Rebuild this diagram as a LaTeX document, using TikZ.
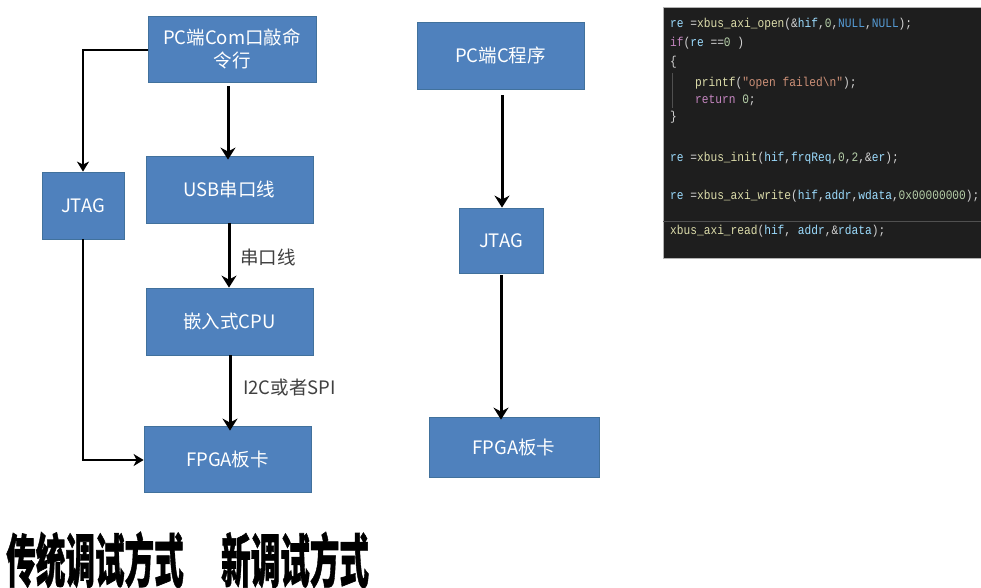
\documentclass[tikz,border=0pt]{standalone}
\usepackage{fontspec}
\usetikzlibrary{arrows.meta}
\setmainfont{Noto Sans CJK SC}
\newfontfamily\titlefont{Noto Sans CJK SC}[BoldFeatures={FakeBold=1.2}]
\newfontfamily\codefont{Liberation Mono}
\definecolor{boxfill}{HTML}{4F81BD}
\definecolor{boxline}{HTML}{41719C}
\definecolor{labeltext}{HTML}{404040}
\definecolor{codebg}{HTML}{1E1E1E}
\definecolor{cvar}{HTML}{9CDCFE}
\definecolor{cpun}{HTML}{D4D4D4}
\definecolor{cfun}{HTML}{DCDCAA}
\definecolor{cnum}{HTML}{B5CEA8}
\definecolor{cnull}{HTML}{569CD6}
\definecolor{ckw}{HTML}{C586C0}
\definecolor{cstr}{HTML}{CE9178}
\definecolor{codeguide}{HTML}{505050}
\newcommand\codec[2]{\textcolor{#1}{#2}}
\tikzset{
  flowbox/.style={draw=boxline, line width=0.8pt, fill=boxfill, text=white,
    font=\fontsize{18.5}{23}\selectfont, align=center, inner sep=0pt},
  flowarrow/.style={draw=black, line width=3pt,
    -{Stealth[length=12pt,width=15pt,inset=4pt]}},
  flowline/.style={draw=black, line width=2.4pt},
  sidearrow/.style={draw=black, line width=2.4pt,
    -{Stealth[length=10pt,width=12pt,inset=3pt]}},
  edgelabel/.style={text=labeltext, font=\fontsize{18.5}{22}\selectfont, anchor=west, inner sep=0pt},
  codeline/.style={anchor=base west, inner sep=0pt, yscale=1.15, font=\codefont\fontsize{11.2}{13}\selectfont},
  bigtitle/.style={font=\titlefont\bfseries\fontsize{58}{60}\selectfont, text=black, inner sep=0pt, xscale=0.51}
}
\begin{document}
\begin{tikzpicture}[x=1pt, y=-1pt]
\useasboundingbox[fill=white] (0,0) rectangle (981,588);

% ---- conventional debug path ----
\node[flowbox, minimum width=168pt, minimum height=66pt] (pc1) at (232,49) {PC端Com口敲命\\令行};
\node[flowbox, minimum width=167pt, minimum height=67pt] (usb) at (229.5,189.5) {USB串口线};
\node[flowbox, minimum width=167pt, minimum height=67pt] (cpu) at (229.5,321.5) {嵌入式CPU};
\node[flowbox, minimum width=167pt, minimum height=66pt] (fpga1) at (227.5,459) {FPGA板卡};
\node[flowbox, minimum width=82pt, minimum height=67pt] (jtag1) at (83,205.5) {JTAG};

\draw[flowarrow] ([yshift=-4pt]pc1.south -| 228,0) -- ([yshift=-4pt]usb.north -| 228,0);
\draw[flowarrow] (usb.south -| 229,0) -- (cpu.north -| 229,0);
\draw[flowarrow] (cpu.south -| 230,0) -- ([yshift=-5pt]fpga1.north -| 230,0);
\draw[sidearrow] (pc1.west |- 0,50) -| (jtag1.north);
\draw[flowline] (jtag1.south) |- (83,460) coordinate (jcorner);
\draw[sidearrow] ([xshift=-1.2pt]jcorner) -- (fpga1.west |- jcorner);

\node[edgelabel] (lbl1) at (240,257) {串口线};
\node[edgelabel] (lbl2) at (243,387) {I2C或者SPI};

% ---- new debug path ----
\node[flowbox, minimum width=167pt, minimum height=67pt] (pc2) at (500.5,55.5) {PC端C程序};
\node[flowbox, minimum width=84pt, minimum height=65pt] (jtag2) at (501,240.5) {JTAG};
\node[flowbox, minimum width=170pt, minimum height=60pt] (fpga2) at (514,447) {FPGA板卡};

\draw[flowarrow] ([yshift=-6pt]pc2.south -| 502,0) -- (jtag2.north -| 502,0);
\draw[flowarrow] ([yshift=-2pt]jtag2.south -| 501,0) -- ([yshift=-3pt]fpga2.north -| 501,0);

% ---- code panel ----
\fill[codebg] (663,7) rectangle (981,258);
\draw[gray!60, line width=0.6pt] (663,7) rectangle (981,258);
\draw[codeguide, line width=0.6pt] (663,221) -- (981,221);
\draw[codeguide, line width=0.5pt] (672,73) -- (672,108);

\node[codeline] (c1) at (670,28) {\codec{cvar}{re}~\codec{cpun}{=}\codec{cfun}{xbus\_axi\_open}\codec{cpun}{(\&}\codec{cvar}{hif}\codec{cpun}{,}\codec{cnum}{0}\codec{cpun}{,}\codec{cnull}{NULL}\codec{cpun}{,}\codec{cnull}{NULL}\codec{cpun}{);}};
\node[codeline] (c2) at (670,47) {\codec{ckw}{if}\codec{cpun}{(}\codec{cvar}{re}\codec{cpun}{~==}\codec{cnum}{0}\codec{cpun}{~)}};
\node[codeline] (c3) at (670,66) {\codec{cpun}{\{}};
\node[codeline] (c4) at (695,87) {\codec{cfun}{printf}\codec{cpun}{(}\codec{cstr}{"open~failed\textbackslash n"}\codec{cpun}{);}};
\node[codeline] (c5) at (695,104) {\codec{ckw}{return}~\codec{cnum}{0}\codec{cpun}{;}};
\node[codeline] (c6) at (670,121) {\codec{cpun}{\}}};
\node[codeline] (c7) at (670,161) {\codec{cvar}{re}~\codec{cpun}{=}\codec{cfun}{xbus\_init}\codec{cpun}{(}\codec{cvar}{hif}\codec{cpun}{,}\codec{cvar}{frqReq}\codec{cpun}{,}\codec{cnum}{0}\codec{cpun}{,}\codec{cnum}{2}\codec{cpun}{,\&}\codec{cvar}{er}\codec{cpun}{);}};
\node[codeline] (c8) at (670,199) {\codec{cvar}{re}~\codec{cpun}{=}\codec{cfun}{xbus\_axi\_write}\codec{cpun}{(}\codec{cvar}{hif}\codec{cpun}{,}\codec{cvar}{addr}\codec{cpun}{,}\codec{cvar}{wdata}\codec{cpun}{,}\codec{cnum}{0x00000000}\codec{cpun}{);}};
\node[codeline] (c9) at (670,234) {\codec{cfun}{xbus\_axi\_read}\codec{cpun}{(}\codec{cvar}{hif}\codec{cpun}{,~}\codec{cvar}{addr}\codec{cpun}{,\&}\codec{cvar}{rdata}\codec{cpun}{);}};

% ---- titles ----
\node[bigtitle] (t1) at (95,560) {传统调试方式};
\node[bigtitle] (t2) at (295,560) {新调试方式};
\end{tikzpicture}
\end{document}
